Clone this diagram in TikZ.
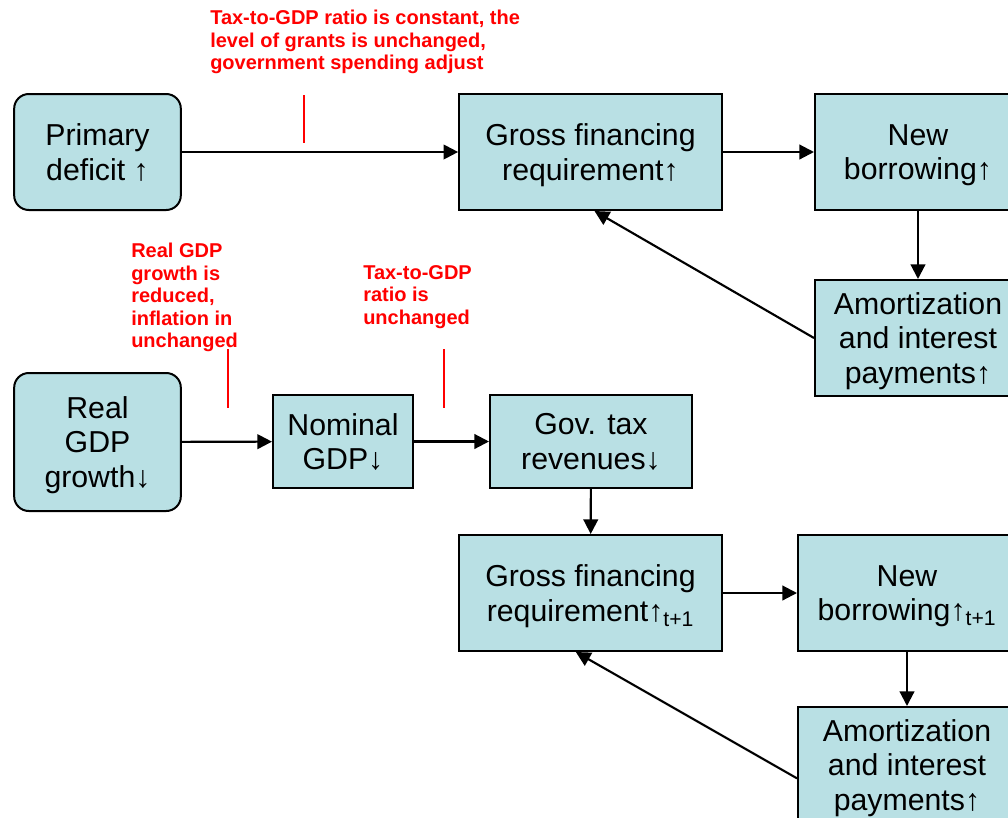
\documentclass[tikz,border=0pt]{standalone}
\usepackage{fontspec}
\setmainfont{Liberation Sans}
\usetikzlibrary{arrows.meta, positioning}
\definecolor{boxblue}{RGB}{185,224,228}
\tikzset{ box/.style={draw, fill=boxblue, line width=1.5pt, align=center,
            inner sep=0pt, minimum height=87pt, text depth=0pt,
            font=\fontsize{22.7}{26.1}\selectfont},
          rbox/.style={box, rounded corners=11pt},
          note/.style={text=red, align=left, inner sep=0pt, anchor=north west,
            font=\fontsize{15}{16.9}\selectfont\bfseries},
          link/.style={-{Triangle[length=11pt,width=11pt]}, line width=1.6pt},
          tick/.style={red, line width=1pt}}

\begin{document}
\begin{tikzpicture}[x=0.75pt, y=-0.75pt]
\useasboundingbox (0,0) rectangle (1008,818);
\clip (0,0) rectangle (1008,818);

% period t
\node[rbox, minimum width=125pt] (prim) at (97.5,152) {Primary\\deficit ↑};
\node[box, minimum width=197pt] (gfr) at (590.5,152) {Gross financing\\requirement↑};
\node[box, minimum width=154.5pt] (newb) at (918,152) {New\\borrowing↑};
\node[box, minimum width=154.5pt] (amort) at (918,338) {Amortization\\and interest\\payments↑};

% growth shock
\node[rbox, minimum width=125pt, minimum height=103.5pt] (realg) at (97.5,442) {Real\\GDP\\growth↓};
\node[box, minimum width=105pt, minimum height=70pt] (nomg) at (343,441.5) {Nominal\\GDP↓};
\node[box, minimum width=151.5pt, minimum height=70pt] (tax) at (591,441.5) {Gov. tax\\revenues↓};

% period t+1
\node[box, minimum width=197pt] (gfr2) at (590.5,593) {Gross financing\\requirement↑\textsubscript{t+1}};
\node[box, minimum width=163.5pt] (newb2) at (907,593) {New\\borrowing↑\textsubscript{t+1}};
\node[box, minimum width=163.5pt] (amort2) at (907,765) {Amortization\\and interest\\payments↑};

\foreach \a/\b in {prim/gfr, gfr/newb, realg/nomg, nomg/tax, gfr2/newb2} % left to right
  \draw[link] (\a) -- (\b);
\foreach \a/\b in {newb/amort, tax/gfr2, newb2/amort2} % downwards
  \draw[link] (\a) -- (\b);
\draw[link] (amort.west) -- ([xshift=3pt]gfr.south); % feedback
\draw[link] ([yshift=-10pt]amort2.west) -- ([xshift=-11pt]gfr2.south);

% assumptions
\node[note] (n1) at (210,10) {Tax-to-GDP ratio is constant, the\\level of grants is unchanged,\\government spending adjust};
\node[note] (n2) at (131,243) {Real GDP\\growth is\\reduced,\\inflation in\\unchanged};
\node[note] (n3) at (363,265) {Tax-to-GDP\\ratio is\\unchanged};
\draw[tick] (304,95) -- (304,143);
\draw[tick] (228,349) -- (228,408);
\draw[tick] (444,349) -- (444,408);

\end{tikzpicture}
\end{document}
